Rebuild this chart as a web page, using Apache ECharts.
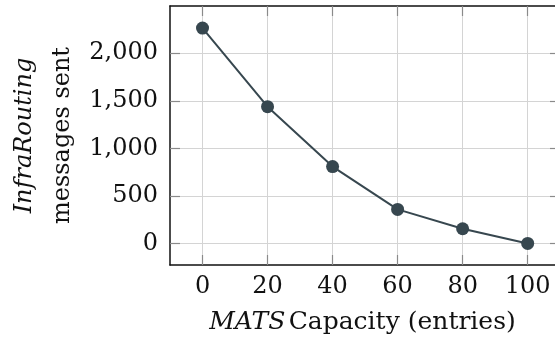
<!DOCTYPE html>
<html>
<head>
<meta charset="utf-8">
<script src="https://cdn.jsdelivr.net/npm/echarts@6/dist/echarts.min.js"></script>
<style>
html,body{margin:0;padding:0;background:#fff;}
#c{width:555px;height:349px;}
</style>
</head>
<body>
<div id="c"></div>
<script>
var capacities = [0, 20, 40, 60, 80, 100];
var messagesSent = [2265, 1438, 808, 358, 154, 0];
var xTicks = [0, 20, 40, 60, 80, 100];
var yTicks = [0, 500, 1000, 1500, 2000];

var FONT = 'DejaVu Serif';
var FS = 24;
var tickStyle = {color: '#8a8a8a', width: 1.2};
var gridStyle = {color: '#d4d4d4', width: 1};

function fmt(v){ return String(v).replace(/\B(?=(\d{3})+(?!\d))/g, ','); }

var chart = echarts.init(document.getElementById('c'), null, {renderer: 'canvas'});
chart.setOption({
  animation: false,
  backgroundColor: '#fff',
  grid: {left: 170, top: 6, right: 0, bottom: 84, containLabel: false},
  xAxis: [{
    type: 'value', position: 'bottom', min: -10, max: 108.4,
    axisLine: {show: true, onZero: false, lineStyle: {color: '#111', width: 1.5}},
    axisTick: {show: true, inside: true, length: 10, customValues: xTicks, lineStyle: tickStyle},
    axisLabel: {show: true, customValues: xTicks, margin: 10, color: '#111', fontFamily: FONT, fontSize: FS},
    splitLine: {show: true, lineStyle: gridStyle},
    name: '{i|MATS} {n|Capacity (entries)}',
    nameLocation: 'middle', nameGap: 45,
    nameTextStyle: {rich: {
      i: {fontFamily: FONT, fontStyle: 'italic', fontSize: 25, color: '#111'},
      n: {fontFamily: FONT, fontSize: 25, color: '#111'}
    }}
  }, {
    type: 'value', position: 'top', min: -10, max: 108.4,
    axisLine: {show: true, onZero: false, lineStyle: {color: '#111', width: 1.5}},
    axisTick: {show: true, inside: true, length: 10, customValues: xTicks, lineStyle: tickStyle},
    axisLabel: {show: false},
    splitLine: {show: false}
  }],
  yAxis: [{
    type: 'value', position: 'left', min: -227, max: 2497,
    axisLine: {show: true, onZero: false, lineStyle: {color: '#111', width: 1.5}},
    axisTick: {show: true, inside: true, length: 10, customValues: yTicks, lineStyle: tickStyle},
    axisLabel: {show: true, customValues: yTicks, margin: 12, color: '#111', fontFamily: FONT, fontSize: FS, formatter: fmt},
    splitLine: {show: true, lineStyle: gridStyle},
    name: '{i|InfraRouting}\n{n|messages sent}',
    nameLocation: 'middle', nameGap: 88, nameRotate: 90,
    nameTextStyle: {rich: {
      i: {fontFamily: FONT, fontStyle: 'italic', fontSize: FS, color: '#111', lineHeight: 38},
      n: {fontFamily: FONT, fontSize: FS, color: '#111', lineHeight: 38}
    }}
  }, {
    type: 'value', position: 'right', min: -227, max: 2497,
    axisLine: {show: false, onZero: false},
    axisTick: {show: true, inside: true, length: 5, customValues: yTicks, lineStyle: tickStyle},
    axisLabel: {show: false},
    splitLine: {show: false}
  }],
  series: [{
    type: 'line',
    xAxisIndex: 0, yAxisIndex: 0,
    data: capacities.map(function(c, i){ return [c, messagesSent[i]]; }),
    symbol: 'circle', symbolSize: 13,
    lineStyle: {color: '#37474f', width: 2},
    itemStyle: {color: '#37474f'},
    z: 10
  }]
});
</script>
</body>
</html>
